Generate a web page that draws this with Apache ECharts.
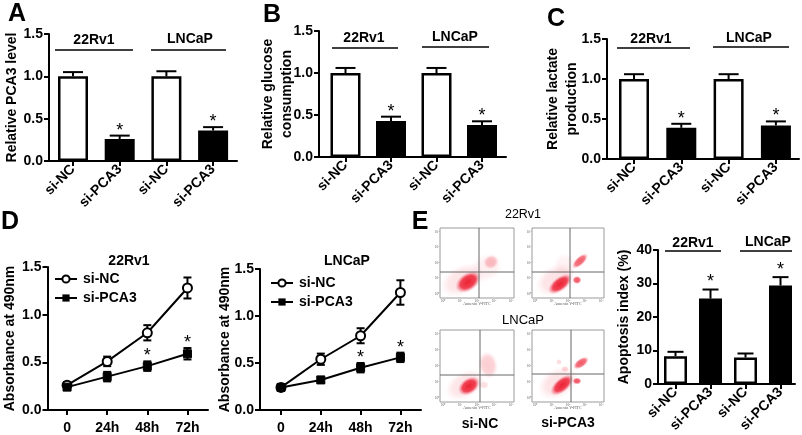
<!DOCTYPE html>
<html><head><meta charset="utf-8">
<style>html,body{margin:0;padding:0;background:#fff}#c{width:802px;height:435px}</style>
<script src="https://cdn.jsdelivr.net/npm/echarts@6/dist/echarts.min.js"></script>
</head><body><div id="c"></div>
<script>
// ---- data ----
const barCategories = ['si-NC','si-PCA3','si-NC','si-PCA3'];
const timeLabels = ['0','24h','48h','72h'];
const pca3Level = [1.0,0.26,1.0,0.36];
const pca3Err = [0.05,0.04,0.06,0.04];
const glucose = [1.0,0.43,1.0,0.38];
const glucoseErr = [0.06,0.05,0.06,0.045];
const lactate = [1.0,0.39,1.0,0.42];
const lactateErr = [0.06,0.05,0.06,0.05];
const apoptosis = [8.3,25.5,7.9,29.4];
const apoptosisErr = [1.3,2.7,1.2,2.5];
const barStars = ['','*','','*'];
const rvNC = [0.26,0.51,0.81,1.28];
const rvNCErr = [0.03,0.05,0.08,0.11];
const rvPCA = [0.24,0.35,0.46,0.59];
const rvPCAErr = [0.03,0.05,0.05,0.06];
const lnNC = [0.24,0.54,0.79,1.25];
const lnNCErr = [0.02,0.06,0.08,0.13];
const lnPCA = [0.24,0.32,0.45,0.56];
const lnPCAErr = [0.02,0.03,0.05,0.05];
const lineStars = ['','','*','*'];

// ---- layout ----
const F = '"Liberation Sans", Arial, sans-serif';
const W = 802;
const barPanels = [
 {vals:pca3Level,errs:pca3Err,ax:49,right:237,top:34,bottom:161,c1:73,s:46.7,bw:30,cap:20,max:1.5,step:0.5,dec:1,name:'Relative PCA3 level',gap:27.5,star:8,fs:14},
 {vals:glucose,errs:glucoseErr,ax:319,right:506,top:31,bottom:157,c1:345.5,s:45.5,bw:30,cap:20,max:1.5,step:0.5,dec:1,name:'Relative glucose\nconsumption',gap:22,star:8,fs:14},
 {vals:lactate,errs:lactateErr,ax:607,right:799,top:39,bottom:159,c1:634,s:47.3,bw:30,cap:20,max:1.5,step:0.5,dec:1,name:'Relative lactate\nproduction',gap:25,star:8,fs:14},
 {vals:apoptosis,errs:apoptosisErr,ax:658,right:795,top:250,bottom:384,c1:675.5,s:35,bw:23,cap:16,max:40,step:10,dec:0,name:'Apoptosis index (%)',gap:24.5,star:10,fs:14}
];
const linePanels = [
 {a:rvNC,ae:rvNCErr,b:rvPCA,be:rvPCAErr,ax:44,right:208,top:267,bottom:413,c1:64,s:41,gap:27.5,lx:54,ly:272},
 {a:lnNC,ae:lnNCErr,b:lnPCA,be:lnPCAErr,ax:260,right:421,top:269,bottom:414,c1:281,s:39.8,gap:25.5,lx:270,ly:276}
];
const notes = [
 ['A',17,14,25],['B',272,15,25],['C',556,19,25],['D',10,222,25],['E',420,222,25],
 ['22Rv1',94,40,14],['LNCaP',190,39,14],['22Rv1',364,38,14],['LNCaP',455,37,14],
 ['22Rv1',651,39,14],['LNCaP',749,38,14],['22Rv1',129,261,14],['LNCaP',347,261,14],
 ['22Rv1',693,243,14],['LNCaP',768,242,14],['si-NC',480,424,14],['si-PCA3',568,423,14]
];
const plainNotes = [['22Rv1',523,215,12.5],['LNCaP',523,320,13]];
const rules = [[55,133,50],[151,226,50],[332,398,48],[422,489,47],[617,690,48],[713,789,47],[665,721,251],[740,792,251]];
const flowPlots = [
 {x:440,y:228,w:74,h:70,vx:479,hy:272,blobs:[[468,282,14,9,.6,.95],[491,262,8,7,.5,.28],[462,280,24,15,.5,.12],[486,268,18,14,.5,.07]]},
 {x:532,y:228,w:72,h:70,vx:570,hy:272,blobs:[[560,284,14,7,.65,.95],[580,261,10,4.5,.75,.7],[577,280,4.5,4,0,.75],[556,280,22,15,.5,.13],[565,265,12,12,.5,.06]]},
 {x:440,y:330,w:74,h:72,vx:480,hy:375,blobs:[[469,386,12,8,.6,.95],[488,365,10,14,.2,.22],[465,385,22,14,.5,.12],[484,385,5,4,0,.15]]},
 {x:532,y:330,w:72,h:72,vx:571,hy:374,blobs:[[562,385,14,7,.7,.95],[581,363,9,4.5,.6,.72],[577,381,4.5,3.5,0,.75],[565,369,4,3,0,.2],[559,362,3,3,0,.16],[558,383,22,15,.5,.13]]}
];
const flowTicks = ['10⁰','10¹','10²','10³','10⁴'];

// ---- builders ----
const grids=[],xAxes=[],yAxes=[],series=[],legends=[],graphics=[];
function axisStyle(){return {lineStyle:{color:'#000',width:2}};}
function addAxes(p,labels,rot,margin,yMax,yStep,dec,name,gap,fs){
  const i=grids.length;
  grids.push({left:p.ax,top:p.top,width:p.right-p.ax,height:p.bottom-p.top,containLabel:false});
  const ticks=labels.map((_,k)=>k);
  xAxes.push({gridIndex:i,type:'value',min:(p.ax-p.c1)/p.s,max:(p.right-p.c1)/p.s,splitLine:{show:false},
    axisLine:{onZero:false,...axisStyle()},
    axisTick:{length:5,customValues:ticks,lineStyle:{color:'#000',width:2}},
    axisLabel:{customValues:ticks,rotate:rot,margin,color:'#000',fontFamily:F,fontWeight:'bold',fontSize:fs,
      formatter:v=>labels[Math.round(v)]}});
  yAxes.push({gridIndex:i,type:'value',min:0,max:yMax,interval:yStep,splitLine:{show:false},
    axisLine:{show:true,onZero:false,...axisStyle()},axisTick:{show:true,length:5,lineStyle:{color:'#000',width:2}},
    axisLabel:{margin:6,color:'#000',fontFamily:F,fontWeight:'bold',fontSize:14,formatter:v=>v.toFixed(dec)},
    name,nameLocation:'middle',nameGap:gap,nameRotate:90,nameMoveOverlap:false,
    nameTextStyle:{color:'#000',fontFamily:F,fontWeight:'bold',fontSize:14,lineHeight:19}});
  return i;
}
function errSeries(i,vals,errs,cap,stars,starGap,name,z){
  series.push({type:'custom',name,xAxisIndex:i,yAxisIndex:i,z,silent:true,clip:false,
    data:vals.map((v,k)=>[k,v,errs[k]]),
    encode:{x:0,y:1},
    renderItem(params,api){
      const k=api.value(0),v=api.value(1),e=api.value(2);
      const base=api.coord([k,v]),top=api.coord([k,v+e]);
      const kids=[{type:'line',shape:{x1:base[0],y1:base[1],x2:top[0],y2:top[1]},style:{stroke:'#000',lineWidth:2}},
        {type:'line',shape:{x1:top[0]-cap/2,y1:top[1],x2:top[0]+cap/2,y2:top[1]},style:{stroke:'#000',lineWidth:2}}];
      if(name.startsWith('lower')){
        const low=api.coord([k,v-e]);
        kids.push({type:'line',shape:{x1:base[0],y1:base[1],x2:low[0],y2:low[1]},style:{stroke:'#000',lineWidth:2}},
          {type:'line',shape:{x1:low[0]-cap/2,y1:low[1],x2:low[0]+cap/2,y2:low[1]},style:{stroke:'#000',lineWidth:2}});
      }
      if(stars[k]) kids.push({type:'text',style:{text:stars[k],x:top[0],y:top[1]-starGap+3,align:'center',verticalAlign:'middle',
        font:'18px '+F,fill:'#000'}});
      return {type:'group',children:kids};
    }});
}
barPanels.forEach((p,n)=>{
  const i=addAxes(p,barCategories,45,6,p.max,p.step,p.dec,p.name,p.gap,p.fs);
  errSeries(i,p.vals,p.errs,p.cap,barStars,p.star,'err'+n,1);
  series.push({type:'bar',xAxisIndex:i,yAxisIndex:i,barWidth:p.bw,z:2,silent:true,
    data:p.vals.map((v,k)=>({value:[k,v],itemStyle:{color:k%2?'#000':'#fff',borderColor:'#000',borderWidth:2.5}}))});
});
linePanels.forEach((p,n)=>{
  const i=addAxes(p,timeLabels,0,11,1.5,0.5,1,'Absorbance at 490nm',p.gap,14);
  errSeries(i,p.a,p.ae,8,['','','',''],0,'lowerA'+n,1);
  errSeries(i,p.b,p.be,8,lineStars,8,'lowerB'+n,1);
  const style={type:'line',xAxisIndex:i,yAxisIndex:i,z:3,silent:true,smooth:false,lineStyle:{color:'#000',width:2}};
  series.push({...style,name:'si-NC',symbol:'circle',symbolSize:9,itemStyle:{color:'#fff',borderColor:'#000',borderWidth:2},data:p.a.map((v,k)=>[k,v])});
  series.push({...style,name:'si-PCA3',symbol:'rect',symbolSize:8,itemStyle:{color:'#000',borderColor:'#000'},data:p.b.map((v,k)=>[k,v])});
  legends.push({left:p.lx,top:p.ly,orient:'vertical',itemWidth:22,itemHeight:9,itemGap:5,selectedMode:false,padding:0,
    data:['si-NC','si-PCA3'],textStyle:{color:'#000',fontFamily:F,fontWeight:'bold',fontSize:14,padding:[0,0,0,1]}});
});
notes.forEach(([t,x,y,s])=>graphics.push({type:'text',x,y,style:{text:t,align:'center',verticalAlign:'middle',font:'bold '+s+'px '+F,fill:'#000'}}));
plainNotes.forEach(([t,x,y,s])=>graphics.push({type:'text',x,y,style:{text:t,align:'center',verticalAlign:'middle',font:s+'px '+F,fill:'#000'}}));
rules.forEach(([a,b,y])=>graphics.push({type:'line',shape:{x1:a,y1:y,x2:b,y2:y},style:{stroke:'#000',lineWidth:1.6}}));
flowPlots.forEach(p=>{
  graphics.push({type:'rect',shape:{x:p.x,y:p.y,width:p.w,height:p.h},style:{fill:'#fff',stroke:'#9a9a9a',lineWidth:1}});
  p.blobs.slice().reverse().forEach(([cx,cy,rx,ry,rot,alpha])=>graphics.push({type:'circle',x:cx,y:cy,rotation:rot,scaleX:rx/10,scaleY:ry/10,
    shape:{cx:0,cy:0,r:10},
    style:{fill:{type:'radial',x:.5,y:.5,r:.5,colorStops:[{offset:0,color:`rgba(236,24,40,${alpha})`},{offset:.6,color:`rgba(238,40,60,${alpha*.9})`},{offset:1,color:'rgba(240,120,140,0)'}]}}}));
  graphics.push({type:'line',shape:{x1:p.vx,y1:p.y,x2:p.vx,y2:p.y+p.h},style:{stroke:'#666',lineWidth:1}});
  graphics.push({type:'line',shape:{x1:p.x,y1:p.hy,x2:p.x+p.w,y2:p.hy},style:{stroke:'#666',lineWidth:1}});
  graphics.push({type:'text',x:p.x+p.w/2,y:p.y+p.h+6,style:{text:'Annexin V-FITC',align:'center',verticalAlign:'middle',font:'4px "Liberation Serif", serif',fill:'#555'}});
  flowTicks.forEach((t,k)=>{
    graphics.push({type:'text',x:p.x+3+k*(p.w-6)/4,y:p.y+p.h+3,style:{text:t,align:'center',verticalAlign:'middle',font:'3.5px "Liberation Serif", serif',fill:'#666'}});
    graphics.push({type:'text',x:p.x-3,y:p.y+p.h-4-k*(p.h-8)/4,style:{text:t,align:'center',verticalAlign:'middle',font:'3.5px "Liberation Serif", serif',fill:'#666'}});
  });
});

const chart=echarts.init(document.getElementById('c'),null,{width:W,height:435});
chart.setOption({animation:false,backgroundColor:'#fff',grid:grids,xAxis:xAxes,yAxis:yAxes,series,legend:legends,graphic:{elements:graphics},tooltip:{show:false}});
</script></body></html>
